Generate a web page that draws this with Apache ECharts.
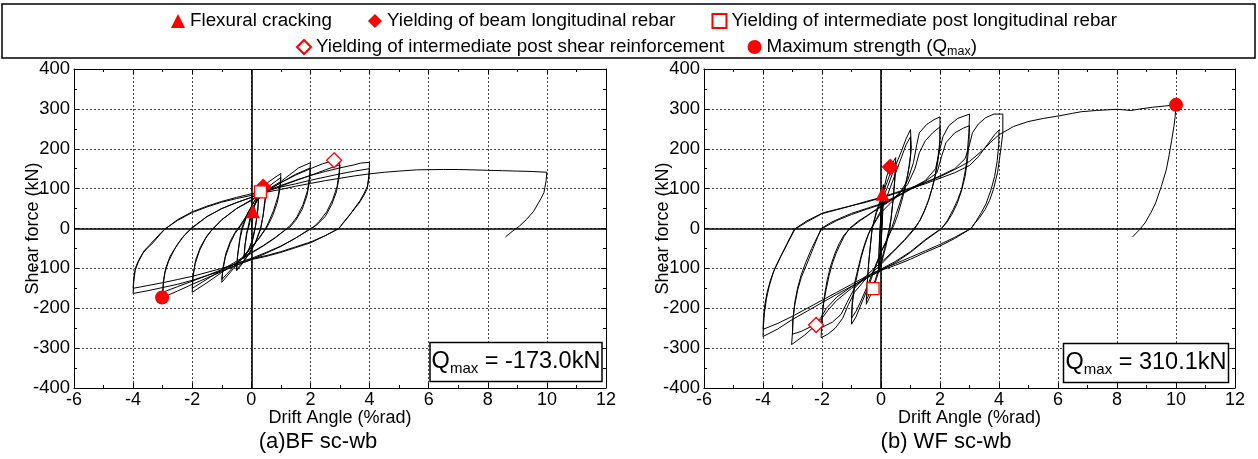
<!DOCTYPE html>
<html><head><meta charset="utf-8">
<script src="https://cdn.jsdelivr.net/npm/echarts@6/dist/echarts.min.js"></script>
<style>html,body{margin:0;padding:0;background:#fff}#c{width:1258px;height:459px}</style>
</head><body><div id="c"></div><script>
// ---------------- DATA ----------------
const xTicks = [-6, -4, -2, 0, 2, 4, 6, 8, 10, 12];
const yTicks = [-400, -300, -200, -100, 0, 100, 200, 300, 400];
const xName = 'Drift Angle (%rad)';
const yName = 'Shear force (kN)';
const captions = ['(a)BF sc-wb', '(b) WF sc-wb'];
const qmaxValues = ['-173.0kN', '310.1kN'];
const legendRow1 = ['Flexural cracking', 'Yielding of beam longitudinal rebar', 'Yielding of intermediate post longitudinal rebar'];
const legendRow2 = ['Yielding of intermediate post shear reinforcement', 'Maximum strength (Qmax)'];

// BF sc-wb hysteresis (drift %rad, shear kN)
const bfSmall = [
[0,0],[0.05,43],[0.12,62],[0.25,82],
[0.22,50],[0.16,15],[0.13,0],[0.05,-28],[-0.08,-52],[-0.25,-76],
[-0.22,-45],[-0.16,-12],[-0.12,0],[-0.04,28],[0.08,52],[0.25,80],
[0.22,46],[0.15,10],[0.12,0],[0.03,-30],[-0.1,-55],[-0.25,-74],
[-0.21,-40],[-0.14,-8],[-0.1,0],[0.0,32],[0.15,68],[0.31,92],[0.4,104],[0.5,110],
[0.47,78],[0.4,35],[0.32,0],[0.15,-35],[-0.1,-66],[-0.3,-88],[-0.5,-106],
[-0.47,-72],[-0.4,-30],[-0.33,0],[-0.15,35],[0.1,68],[0.3,90],[0.5,104],
[0.47,70],[0.39,28],[0.31,0],[0.12,-38],[-0.15,-70],[-0.35,-90],[-0.5,-102],
[-0.46,-65],[-0.38,-25],[-0.3,0],[-0.12,38],[0.1,68]
];
const bfCycle1 = [
[0.3,95],[0.55,115],[0.8,128],[1.0,138],
[0.98,112],[0.9,80],[0.75,45],[0.58,15],[0.48,0],[0.25,-25],[0,-48],[-0.3,-75],[-0.6,-100],[-0.85,-122],[-1.0,-135],
[-0.97,-108],[-0.88,-72],[-0.72,-38],[-0.55,-12],[-0.42,0],[-0.2,25],[0,48],[0.3,82],[0.6,106],[0.85,120],[1.0,128],
[0.97,100],[0.88,65],[0.72,32],[0.55,6],[0.5,0],[0.25,-26],[0,-46],[-0.3,-72],[-0.6,-96],[-0.85,-116],[-1.0,-128],
[-0.96,-98],[-0.86,-62],[-0.7,-30],[-0.52,-6],[-0.45,0],[-0.2,28],[0,50],[0.3,78]
];
const bfCycle2 = [
[0.6,100],[1.0,118],[1.3,135],[1.6,152],[2.0,165],
[1.97,130],[1.9,95],[1.75,60],[1.55,30],[1.35,10],[1.2,0],[0.8,-24],[0.4,-44],[0,-62],[-0.5,-85],[-1.0,-110],[-1.5,-136],[-2.0,-160],
[-1.98,-125],[-1.9,-88],[-1.75,-55],[-1.55,-25],[-1.35,-5],[-1.28,0],[-1.0,22],[-0.5,50],[0,72],[0.5,94],[1.0,115],[1.5,136],[2.0,152],
[1.97,118],[1.88,82],[1.72,48],[1.5,20],[1.3,3],[1.22,0],[0.8,-23],[0.4,-43],[0,-60],[-0.5,-82],[-1.0,-104],[-1.5,-127],[-2.0,-150],
[-1.97,-115],[-1.88,-78],[-1.72,-46],[-1.5,-18],[-1.3,0],[-1.0,22],[-0.5,50],[0,70]
];
const bfCycle3 = [
[0.5,93],[1.0,115],[1.5,134],[2.0,150],[2.4,162],[2.8,171],[3.0,173],
[2.97,140],[2.9,105],[2.75,72],[2.55,42],[2.3,18],[2.1,3],[2.05,0],[1.5,-24],[1.0,-45],[0.5,-62],[0,-78],[-0.5,-92],[-1.0,-108],[-1.5,-124],[-2.0,-140],[-2.5,-157],[-3.0,-173],
[-2.98,-140],[-2.92,-110],[-2.8,-82],[-2.6,-52],[-2.35,-24],[-2.05,0],[-1.5,30],[-1.0,50],[-0.5,65],[0,78],[0.5,92],[1.0,106],[1.5,120],[2.0,133],[2.5,147],[3.0,160],
[2.97,128],[2.88,92],[2.72,60],[2.5,30],[2.2,8],[2.0,0],[1.5,-24],[1.0,-44],[0.5,-60],[0,-75],[-0.5,-88],[-1.0,-103],[-1.5,-118],[-2.0,-132],[-2.5,-146],[-3.0,-160],
[-2.97,-128],[-2.9,-100],[-2.75,-70],[-2.5,-40],[-2.25,-16],[-2.02,0],[-1.5,30],[-1.0,50],[-0.5,65],[0,78]
];
const bfCycle4 = [
[0.5,94],[1.0,108],[1.5,121],[2.0,133],[2.5,143],[3.0,152],[3.5,160],[3.7,164],[4.0,166],
[3.98,135],[3.93,106],[3.82,89],[3.68,70],[3.54,56],[3.35,36],[3.15,17],[2.95,0],[2.5,-18],[2.0,-36],[1.5,-48],[1.0,-60],[0.5,-70],[0,-78],[-0.5,-92],[-1.0,-106],[-1.5,-118],[-2.0,-130],[-2.5,-140],[-3.0,-148],[-3.5,-156],[-4.0,-163],
[-3.98,-135],[-3.93,-105],[-3.83,-85],[-3.66,-61],[-3.5,-48],[-3.33,-36],[-3.1,-16],[-2.93,-2],[-2.5,22],[-2.0,42],[-1.5,56],[-1.0,68],[-0.5,78],[0,87],[0.5,95],[1.0,104],[1.5,112],[2.0,121],[2.5,129],[3.0,137],[3.5,144],[4.0,150],
[3.97,122],[3.91,98],[3.8,82],[3.65,64],[3.5,50],[3.3,32],[3.1,14],[2.97,0],[2.5,-18],[2.0,-34],[1.5,-46],[1.0,-58],[0.5,-68],[0,-76],[-0.5,-88],[-1.0,-100],[-1.5,-110],[-2.0,-120],[-2.5,-128],[-3.0,-136],[-3.5,-143],[-4.0,-150],
[-3.98,-125],[-3.92,-98],[-3.8,-78],[-3.63,-56],[-3.45,-42],[-3.25,-26],[-3.05,-10],[-2.9,0],[-2.5,20],[-2.0,40],[-1.5,54],[-1.0,66],[-0.5,75],[0,83],[0.5,91],[1.0,98],[1.5,106],[2.0,113],[2.5,120],[3.0,126],[3.5,132],[4.0,137]
];
const bfFinal = [
[4.5,141],[5.0,144],[5.58,147],[6.0,147.5],[6.5,148],[7.0,148],[7.5,147],[8.0,146],[8.5,145],[9.0,144],[9.5,143],[10.0,141],
[9.97,118],[9.9,90],[9.8,75],[9.55,43],[9.3,22],[9.07,6],[8.85,-6],[8.6,-21]
];
// BF event markers
const bfFlexCrack = [[0.05, 43]];
const bfBeamYield = [[0.4, 104]];
const bfPostYield = [[0.31, 92]];
const bfPostShear = [[2.8, 171]];
const bfQmax = [[-3.02, -173.0]];

// WF sc-wb hysteresis
const wfSmall = [
[0,0],[0.02,45],[0.05,87],[0.08,110],
[0.07,70],[0.05,30],[0.03,0],[0,-40],[-0.04,-80],[-0.08,-112],
[-0.07,-70],[-0.05,-30],[-0.03,0],[0,42],[0.04,85],[0.08,106],
[0.07,65],[0.05,25],[0.03,0],[0,-42],[-0.04,-82],[-0.08,-108],
[-0.07,-66],[-0.05,-26],[-0.03,0],[0.02,50],[0.1,100],[0.2,132],[0.31,154],[0.45,172],[0.5,178],
[0.47,130],[0.42,80],[0.35,30],[0.3,0],[0.15,-50],[0,-90],[-0.15,-125],[-0.27,-151],[-0.4,-175],[-0.5,-190],
[-0.47,-140],[-0.42,-88],[-0.35,-35],[-0.3,0],[-0.15,45],[0,75],[0.2,115],[0.4,155],[0.5,168],
[0.47,122],[0.41,72],[0.34,25],[0.28,0],[0.12,-50],[0,-85],[-0.2,-130],[-0.4,-165],[-0.5,-180],
[-0.46,-130],[-0.41,-80],[-0.34,-30],[-0.3,0],[-0.15,40],[0,68]
];
const wfCycle1 = [
[0.2,100],[0.45,150],[0.7,195],[0.85,225],[1.0,248],
[1.03,200],[0.97,160],[0.87,123],[0.75,90],[0.64,64],[0.52,38],[0.42,14],[0.36,0],[0.2,-30],[0,-60],[-0.2,-100],[-0.45,-150],[-0.7,-195],[-0.85,-222],[-1.0,-240],
[-0.98,-195],[-0.9,-150],[-0.79,-111],[-0.68,-75],[-0.56,-44],[-0.44,-18],[-0.34,0],[-0.15,25],[0,45],[0.2,80],[0.45,130],[0.7,180],[0.85,210],[1.0,230],
[1.0,185],[0.93,145],[0.83,105],[0.7,68],[0.57,35],[0.45,10],[0.38,0],[0.2,-28],[0,-58],[-0.2,-95],[-0.45,-142],[-0.7,-185],[-0.85,-208],[-1.0,-225],
[-0.97,-180],[-0.89,-135],[-0.77,-98],[-0.65,-62],[-0.53,-34],[-0.42,-12],[-0.33,0],[-0.15,22],[0,40]
];
const wfCycle2 = [
[0.3,62],[0.6,85],[0.9,120],[1.1,165],[1.21,210],[1.3,240],[1.55,261],[1.8,273],[2.0,280],
[2.0,223],[1.95,190],[1.89,156],[1.81,125],[1.72,98],[1.6,68],[1.44,39],[1.3,18],[1.15,0],[0.8,-30],[0.4,-60],[0,-90],[-0.5,-125],[-0.9,-160],[-1.1,-190],[-1.3,-225],[-1.55,-250],[-1.8,-265],[-2.03,-274],
[-2.01,-230],[-1.95,-190],[-1.86,-153],[-1.76,-118],[-1.64,-86],[-1.52,-62],[-1.41,-44],[-1.25,-20],[-1.07,0],[-0.8,17],[-0.5,31],[0,56],[0.5,80],[0.9,110],[1.15,150],[1.3,190],[1.5,220],[1.75,240],[2.0,255],
[1.99,205],[1.93,170],[1.85,135],[1.75,105],[1.63,75],[1.48,45],[1.32,20],[1.12,0],[0.8,-28],[0.4,-58],[0,-85],[-0.5,-118],[-0.9,-150],[-1.15,-185],[-1.35,-215],[-1.65,-235],[-2.0,-248],
[-1.98,-205],[-1.91,-165],[-1.82,-128],[-1.7,-92],[-1.57,-64],[-1.42,-38],[-1.25,-16],[-1.05,0],[-0.7,20],[-0.3,40],[0,54]
];
const wfCycle3 = [
[0.5,78],[1.0,100],[1.5,120],[1.85,150],[2.0,200],[2.1,230],[2.3,258],[2.6,276],[3.0,287],
[2.98,240],[2.96,223],[2.9,165],[2.82,130],[2.73,98],[2.6,72],[2.45,48],[2.25,20],[2.06,0],[1.5,-30],[1.0,-60],[0.5,-85],[0,-105],[-0.5,-125],[-1.0,-150],[-1.5,-180],[-1.8,-205],[-2.0,-225],[-2.2,-242],[-2.6,-268],[-3.03,-291],
[-3.0,-260],[-2.99,-228],[-2.92,-190],[-2.82,-153],[-2.7,-122],[-2.54,-94],[-2.3,-50],[-2.15,-22],[-2.03,0],[-1.7,15],[-1.41,25],[-1.0,38],[-0.5,50],[0,62],[0.5,80],[1.0,100],[1.5,118],[1.9,140],[2.05,180],[2.2,215],[2.5,240],[2.8,252],[3.0,258],
[2.98,210],[2.93,170],[2.85,130],[2.73,95],[2.58,62],[2.4,35],[2.22,14],[2.04,0],[1.5,-28],[1.0,-58],[0.5,-82],[0,-102],[-0.5,-122],[-1.0,-146],[-1.5,-172],[-1.85,-200],[-2.05,-225],[-2.35,-245],[-2.7,-258],[-3.0,-265],
[-2.98,-225],[-2.92,-185],[-2.83,-150],[-2.7,-115],[-2.55,-85],[-2.35,-50],[-2.15,-20],[-2.0,0],[-1.5,20],[-1.0,35],[-0.5,48],[0,60]
];
const wfCycle4 = [
[0.5,78],[1.0,98],[1.5,115],[2.0,132],[2.5,150],[2.85,175],[3.0,210],[3.1,240],[3.3,262],[3.55,278],[3.83,287],[4.13,287],
[4.13,240],[4.08,210],[4.03,181],[3.95,140],[3.81,98],[3.68,70],[3.53,48],[3.35,28],[3.19,14],[3.05,0],[2.5,-25],[2.0,-44],[1.5,-60],[1.0,-77],[0.5,-92],[0,-105],[-0.5,-125],[-1.0,-145],[-1.5,-165],[-2.0,-186],[-2.5,-207],[-3.0,-228],[-3.5,-252],[-4.0,-271],
[-3.98,-240],[-3.95,-211],[-3.88,-175],[-3.79,-145],[-3.65,-110],[-3.45,-78],[-3.2,-40],[-2.94,-2],[-2.54,18],[-1.98,39],[-1.5,48],[-1.07,56],[-0.5,66],[0,77],[0.5,88],[1.0,100],[1.5,112],[2.0,126],[2.5,140],[3.0,158],[3.3,180],[3.6,210],[3.85,235],[4.0,247],
[3.99,210],[3.94,170],[3.85,130],[3.72,95],[3.56,62],[3.4,40],[3.22,18],[3.05,0],[2.5,-22],[2.0,-40],[1.5,-56],[1.0,-72],[0.5,-88],[0,-102],[-0.5,-120],[-1.0,-140],[-1.5,-160],[-2.0,-180],[-2.5,-200],[-3.0,-220],[-3.5,-238],[-4.0,-253],
[-3.98,-222],[-3.94,-192],[-3.86,-160],[-3.75,-130],[-3.6,-100],[-3.4,-70],[-3.15,-35],[-2.92,-2],[-2.5,17],[-2.0,37],[-1.5,47],[-1.0,57],[-0.5,68],[0,78],[0.5,90],[1.0,102],[1.5,115],[2.0,130],[2.5,148],[3.0,168],[3.5,200],[3.8,222],[4.0,235]
];
const wfFinal = [
[4.5,256],[4.98,268],[5.5,276],[6.0,282],[6.5,289],[6.8,293],[7.3,296],[8.0,299],[8.47,296],[8.8,300],[9.2,304],[9.6,307],[10.0,310.1],
[9.97,280],[9.93,256],[9.85,220],[9.77,185],[9.67,147],[9.5,105],[9.31,64],[9.15,40],[8.95,14],[8.75,-4],[8.53,-21]
];
// WF event markers
const wfFlexCrack = [[0.05, 87]];
const wfBeamYield = [[0.31, 154]];
const wfPostYield = [[-0.27, -151]];
const wfPostShear = [[-2.2, -242]];
const wfQmax = [[10.0, 310.1]];

// ---------------- CHART ----------------
const FONT = "'Liberation Sans', Arial, Helvetica, sans-serif";
const bfCurve = [].concat(bfSmall, bfCycle1, bfCycle2, bfCycle3, bfCycle4, bfFinal);
const wfCurve = [].concat(wfSmall, wfCycle1, wfCycle2, wfCycle3, wfCycle4, wfFinal);

const grids = [
  {left: 74, top: 69, width: 532, height: 319},
  {left: 704, top: 69, width: 531, height: 319}
];

function xAxisDef(g, pos, main) {
  return {
    type: 'value', gridIndex: g, position: pos,
    min: xTicks[0], max: xTicks[xTicks.length - 1], interval: xTicks[1] - xTicks[0],
    axisLine: {show: true, onZero: false, lineStyle: {color: '#000', width: 1}},
    axisTick: {show: true, inside: true, length: 5, lineStyle: {color: '#000'}},
    minorTick: {show: true, splitNumber: 2, length: 3, lineStyle: {color: '#000'}},
    axisLabel: {show: main, color: '#000', fontSize: 18, fontFamily: FONT, margin: 3},
    splitLine: {show: main, lineStyle: {color: '#444', type: [2, 2], width: 1}},
    name: main ? xName : '', nameLocation: 'middle', nameGap: 21, nameMoveOverlap: false,
    nameTextStyle: {color: '#000', fontSize: 18, fontFamily: FONT}
  };
}
function yAxisDef(g, pos, main) {
  return {
    type: 'value', gridIndex: g, position: pos,
    min: yTicks[0], max: yTicks[yTicks.length - 1], interval: yTicks[1] - yTicks[0],
    axisLine: {show: true, onZero: false, lineStyle: {color: '#000', width: 1}},
    axisTick: {show: true, inside: true, length: 5, lineStyle: {color: '#000'}},
    minorTick: {show: true, splitNumber: 2, length: 3, lineStyle: {color: '#000'}},
    axisLabel: {show: main, color: '#000', fontSize: 18.5, fontFamily: FONT, margin: 4},
    splitLine: {show: main, lineStyle: {color: '#444', type: [2, 2], width: 1}},
    name: main ? yName : '', nameLocation: 'middle', nameGap: 32, nameMoveOverlap: false,
    nameTextStyle: {color: '#000', fontSize: 18, fontFamily: FONT}
  };
}

const RED = '#ff0000';
const markerStyles = [
  {name: legendRow1[0], symbol: 'triangle', size: 14, fill: RED},
  {name: legendRow1[1], symbol: 'diamond', size: 17, fill: RED},
  {name: legendRow1[2], symbol: 'rect', size: 12, fill: '#fff'},
  {name: legendRow2[0], symbol: 'diamond', size: 15, fill: '#fff'},
  {name: legendRow2[1], symbol: 'circle', size: 14, fill: RED}
];
const bfMarks = [bfFlexCrack, bfBeamYield, bfPostYield, bfPostShear, bfQmax];
const wfMarks = [wfFlexCrack, wfBeamYield, wfPostYield, wfPostShear, wfQmax];

function curveSeries(data, ax) {
  return {
    type: 'line', data: data, xAxisIndex: ax, yAxisIndex: ax,
    showSymbol: false, symbol: 'none', silent: true, z: 3,
    lineStyle: {color: '#000', width: 1},
    markLine: {
      silent: true, symbol: ['none', 'none'], label: {show: false},
      lineStyle: {color: '#000', type: 'solid', width: 1.6},
      data: [{xAxis: 0}, {yAxis: 0}]
    }
  };
}
function markSeries(ms, data, ax) {
  return {
    type: 'scatter', name: ms.name, data: data, xAxisIndex: ax, yAxisIndex: ax,
    symbol: ms.symbol, symbolSize: ms.size, z: 10,
    itemStyle: {color: ms.fill, borderColor: RED, borderWidth: ms.fill === RED ? 0 : 1.3, opacity: 1}
  };
}

const series = [curveSeries(bfCurve, 0), curveSeries(wfCurve, 2)];
markerStyles.forEach((ms, i) => { series.push(markSeries(ms, bfMarks[i], 0)); });
markerStyles.forEach((ms, i) => { series.push(markSeries(ms, wfMarks[i], 2)); });

const legendText = {
  color: '#000', fontSize: 18.8, fontFamily: FONT, lineHeight: 22,
  rich: {s: {fontSize: 12.5, fontFamily: FONT, color: '#000', verticalAlign: 'bottom', lineHeight: 12}}
};
const iconOf = n => markerStyles.find(m => m.name === n).symbol;
const legendFormatter = n => n === legendRow2[1] ? 'Maximum strength (Q{s|max})' : n;

function qBox(cx, cy, w, h, val) {
  return {
    type: 'group', children: [
      {type: 'rect', shape: {x: cx - w / 2, y: cy - h / 2, width: w, height: h},
       style: {fill: '#fff', stroke: '#000', lineWidth: 1.5}, z: 20},
      {type: 'text', x: cx, y: cy, z: 21,
       style: {text: '{q|Q}{s|max}{q| = ' + val + '}', align: 'center', verticalAlign: 'middle',
         rich: {q: {fontSize: 23.5, fontFamily: FONT, fill: '#000', lineHeight: 28},
                s: {fontSize: 15, fontFamily: FONT, fill: '#000', verticalAlign: 'bottom', lineHeight: 16}}}}
    ]
  };
}

const option = {
  animation: false,
  backgroundColor: '#fff',
  grid: grids,
  xAxis: [xAxisDef(0, 'bottom', true), xAxisDef(0, 'top', false), xAxisDef(1, 'bottom', true), xAxisDef(1, 'top', false)],
  yAxis: [yAxisDef(0, 'left', true), yAxisDef(0, 'right', false), yAxisDef(1, 'left', true), yAxisDef(1, 'right', false)],
  legend: [
    {data: legendRow1.map(n => ({name: n, icon: iconOf(n)})), top: 10, left: 171, padding: 0,
     itemGap: 36, itemWidth: 14, itemHeight: 14, selectedMode: false, textStyle: legendText, formatter: legendFormatter},
    {data: legendRow2.map(n => ({name: n, icon: iconOf(n)})), top: 36, left: 296, padding: 0,
     itemGap: 23, itemWidth: 14, itemHeight: 14, selectedMode: false, textStyle: legendText, formatter: legendFormatter}
  ],
  graphic: [
    {type: 'rect', shape: {x: 2, y: 4, width: 1253, height: 54}, style: {fill: 'none', stroke: '#000', lineWidth: 1.5}, z: -1},
    qBox(516, 362, 172, 39, qmaxValues[0]),
    qBox(1146, 363, 165, 39, qmaxValues[1]),
    {type: 'text', x: 318, y: 442, style: {text: captions[0], align: 'center', verticalAlign: 'middle', fontSize: 22, fontFamily: FONT, fill: '#000'}},
    {type: 'text', x: 946, y: 442, style: {text: captions[1], align: 'center', verticalAlign: 'middle', fontSize: 22, fontFamily: FONT, fill: '#000'}}
  ],
  series: series
};
const chart = echarts.init(document.getElementById('c'), null, {renderer: 'canvas'});
chart.setOption(option);
</script></body></html>
